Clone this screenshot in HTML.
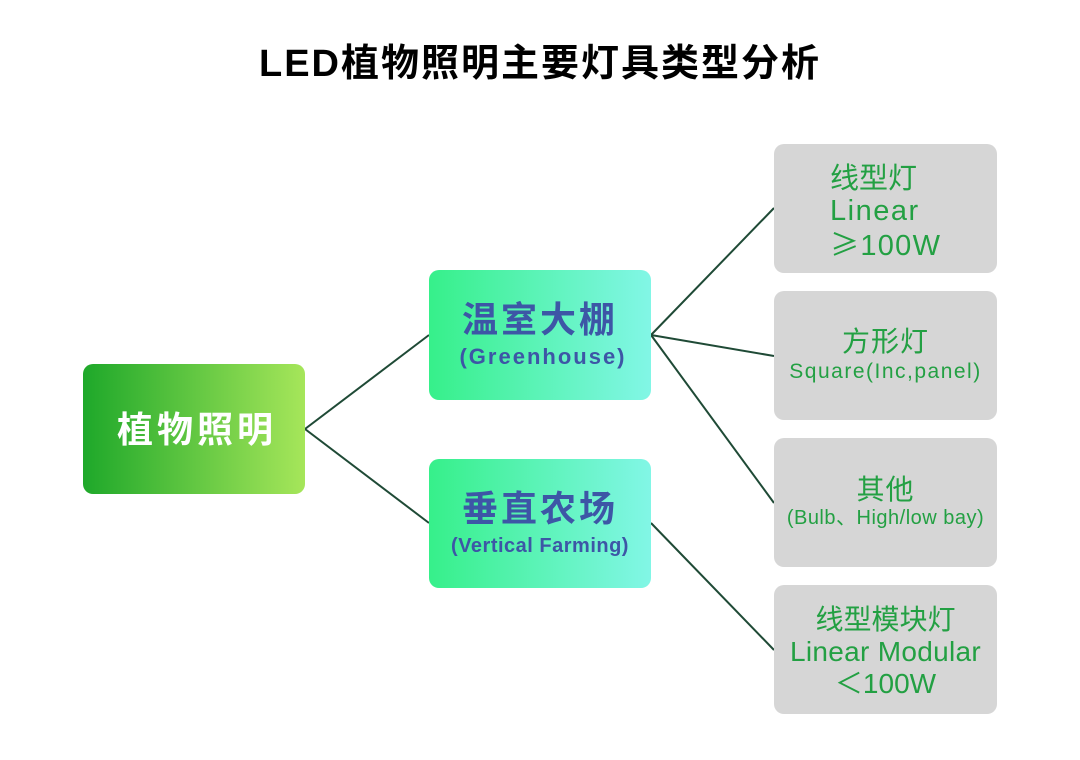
<!DOCTYPE html>
<html><head><meta charset="utf-8">
<style>
html,body{margin:0;padding:0;}
body{width:1080px;height:760px;background:#fff;position:relative;overflow:hidden;font-family:"Liberation Sans","Noto Sans CJK SC",sans-serif;}
.t{position:absolute;white-space:nowrap;line-height:1;}
.box{position:absolute;border-radius:10px;}
.gray{background:#d6d6d6;left:774px;width:223px;height:129px;}
.g{color:#23a043;}
.c{left:0;width:100%;text-align:center;}
.cjk{font-family:"Noto Sans CJK SC",sans-serif;}
</style></head><body>
<div class="t c" style="top:45px;font-size:38px;font-weight:bold;color:#000;letter-spacing:2px;">LED植物照明主要灯具类型分析</div>

<svg width="1080" height="760" style="position:absolute;left:0;top:0;">
<g stroke="#1f4a36" stroke-width="2" fill="none">
<polyline points="429,335 305,429 429,523"/>
<line x1="651" y1="335" x2="774" y2="208"/>
<line x1="651" y1="335" x2="774" y2="356"/>
<line x1="651" y1="335" x2="774" y2="503"/>
<line x1="651" y1="523" x2="774" y2="650"/>
</g>
</svg>

<div class="box" style="left:83px;top:364px;width:222px;height:130px;background:linear-gradient(90deg,#1ea82a,#a6e65a);">
  <div class="t" style="left:34px;top:48px;font-size:36px;font-weight:bold;color:#fff;letter-spacing:4px;">植物照明</div>
</div>

<div class="box" style="left:429px;top:270px;width:222px;height:130px;background:linear-gradient(90deg,#36f08a,#82f6e6);">
  <div class="t c" style="top:32px;font-size:36px;font-weight:bold;color:#3d56a6;letter-spacing:3px;">温室大棚</div>
  <div class="t c" style="top:76px;font-size:22px;font-weight:bold;color:#3d56a6;letter-spacing:2px;padding-left:3px;">(Greenhouse)</div>
</div>

<div class="box" style="left:429px;top:459px;width:222px;height:129px;background:linear-gradient(90deg,#36f08a,#82f6e6);">
  <div class="t c" style="top:32px;font-size:36px;font-weight:bold;color:#3d56a6;letter-spacing:3px;">垂直农场</div>
  <div class="t c" style="top:77px;font-size:20px;font-weight:bold;color:#3d56a6;letter-spacing:0.5px;">(Vertical Farming)</div>
</div>

<div class="box gray" style="top:144px;">
  <div class="t g" style="left:56px;top:21px;font-size:29px;">线型灯</div>
  <div class="t g" style="left:56px;top:53px;font-size:29px;letter-spacing:1.5px;">Linear</div>
  <div class="t g" style="left:56px;top:85px;font-size:29px;letter-spacing:1.3px;"><span class="cjk">≥</span>100W</div>
</div>

<div class="box gray" style="top:291px;">
  <div class="t c g" style="top:37px;font-size:28px;letter-spacing:1px;">方形灯</div>
  <div class="t c g" style="top:70px;font-size:21px;letter-spacing:1.5px;">Square(Inc,panel)</div>
</div>

<div class="box gray" style="top:438px;">
  <div class="t c g" style="top:38px;font-size:28px;letter-spacing:1px;">其他</div>
  <div class="t c g" style="top:70px;font-size:20px;letter-spacing:0.5px;">(Bulb、High/low bay)</div>
</div>

<div class="box gray" style="top:585px;">
  <div class="t c g" style="top:21px;font-size:28px;">线型模块灯</div>
  <div class="t c g" style="top:53px;font-size:28px;letter-spacing:0.3px;">Linear Modular</div>
  <div class="t c g" style="top:85px;font-size:28px;">＜100W</div>
</div>
</body></html>
